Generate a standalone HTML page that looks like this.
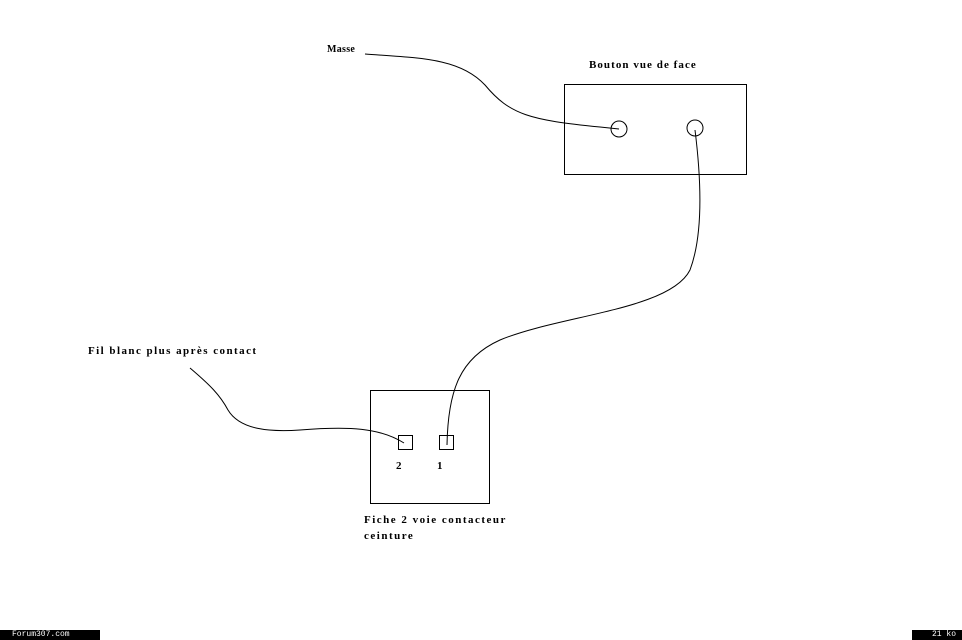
<!DOCTYPE html>
<html><head><meta charset="utf-8"><style>
html,body{margin:0;padding:0;background:#fff;}
body{width:962px;height:640px;position:relative;overflow:hidden;font-family:"Liberation Serif",serif;}
.t{position:absolute;font-size:11px;color:#000;white-space:nowrap;font-weight:bold;letter-spacing:0.3px;}
.bar{position:absolute;top:630px;height:10px;background:#000;color:#fff;font-family:"Liberation Mono",monospace;font-size:8px;line-height:10px;}
</style></head><body>
<svg width="962" height="640" style="position:absolute;left:0;top:0">
<g fill="none" stroke="#000" stroke-width="1">
<rect x="564.5" y="84.5" width="182" height="90"/>
<circle cx="619" cy="129" r="8"/>
<circle cx="695" cy="128" r="8"/>
<rect x="370.5" y="390.5" width="119" height="113"/>
<rect x="398.5" y="435.5" width="14" height="14"/>
<rect x="439.5" y="435.5" width="14" height="14"/>
<path d="M365,54 C420,58 460,58 485,85 C510,115 530,120 600,127 L619,129"/>
<path d="M695,130 C700,170 705,230 690,270 C670,310 560,315 500,340 C460,358 448,390 447,445"/>
<path d="M190,368 C210,385 220,395 228,410 C240,430 270,432 300,430 C350,426 380,428 404,443"/>
</g>
</svg>
<div class="t" style="left:327px;top:44px;font-size:10px">Masse</div>
<div class="t" style="left:589px;top:59px;letter-spacing:1.05px">Bouton  vue de face</div>
<div class="t" style="left:88px;top:345px;letter-spacing:1.45px">Fil  blanc plus après contact</div>
<div class="t" style="left:396px;top:460px">2</div>
<div class="t" style="left:437px;top:460px">1</div>
<div class="t" style="left:364px;top:514px;letter-spacing:1.5px">Fiche 2 voie contacteur</div>
<div class="t" style="left:364px;top:530px;letter-spacing:1.5px">ceinture</div>
<div class="bar" style="left:0;width:100px;padding-left:0"><span style="margin-left:12px">Forum307.com</span></div>
<div class="bar" style="left:912px;width:50px;text-align:right"><span style="margin-right:6px">21 ko</span></div>
</body></html>
